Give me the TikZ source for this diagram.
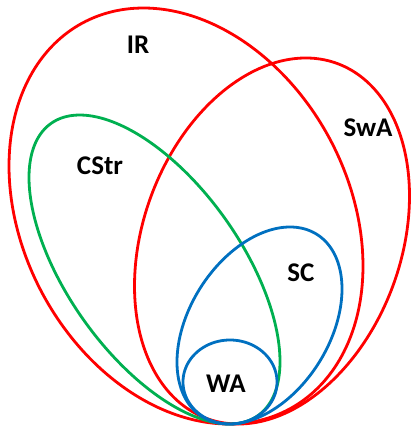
\documentclass[tikz,border=0pt]{standalone}
\usepackage{fontspec}
\setmainfont{Carlito}
\definecolor{setred}{RGB}{255,0,0}
\definecolor{setgreen}{RGB}{0,176,80}
\definecolor{setblue}{RGB}{0,112,192}
% tilted oval: centre (#1,#2), half width #3, y-offset of the rightmost point #4, remaining half height #5
\newcommand\tiltoval[5]{plot[domain=0:360,samples=241] ({#1+#3*cos(\x)},{#2+#4*cos(\x)+#5*sin(\x)}) -- cycle}
\tikzset{
  setline/.style={line width=2.8pt, line join=round},
  setlabel/.style={font=\fontsize{27}{30}\selectfont\bfseries, inner sep=0pt}
}
\begin{document}
\begin{tikzpicture}[x=1pt,y=-1pt]
\useasboundingbox (0,0) rectangle (411,426);
% red ovals
\draw[setline, setred] \tiltoval{186}{216}{177}{50}{201.9};
\draw[setline, setred] \tiltoval{272}{241}{137.5}{-45}{177.4};
% green oval
\draw[setline, setgreen] \tiltoval{154.5}{269.5}{125.5}{92}{124.1};
% blue ovals
\draw[setline, setblue] \tiltoval{259.5}{325.5}{82.5}{-36.5}{91.5};
\draw[setline, setblue] \tiltoval{230}{382}{47}{0}{42};
% labels
\node[setlabel] (ir) at (138,45) {IR};
\node[setlabel] (swa) at (368,128) {SwA};
\node[setlabel] (cstr) at (100,166) {CStr};
\node[setlabel] (sc) at (301,273) {SC};
\node[setlabel] (wa) at (226,384) {WA};
\end{tikzpicture}
\end{document}
